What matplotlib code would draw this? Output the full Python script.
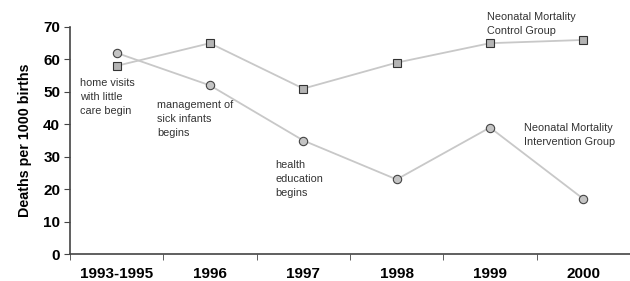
import numpy as np
import matplotlib
matplotlib.use('Agg')
import matplotlib.pyplot as plt

# data
periods = ['1993-1995', '1996', '1997', '1998', '1999', '2000']
control = [58, 65, 51, 59, 65, 66]
intervention = [62, 52, 35, 23, 39, 17]

plt.rcParams['font.family'] = 'Liberation Sans'

fig = plt.figure(figsize=(6.3, 2.81), dpi=100)
ax = fig.add_axes([0.111, 0.096, 0.889, 0.808])

x = np.arange(len(periods))
line_col = '#c8c8c8'

ax.plot(x, control, color=line_col, linewidth=1.3, marker='s', markersize=6,
        markerfacecolor='#b4b4b4', markeredgecolor='#333333', markeredgewidth=0.8, zorder=3)
ax.plot(x, intervention, color=line_col, linewidth=1.3, marker='o', markersize=6,
        markerfacecolor='#c4c4c4', markeredgecolor='#444444', markeredgewidth=0.8, zorder=3)

ax.set_xlim(-0.5, len(periods) - 0.5)
ax.set_ylim(0, 70)
ax.set_yticks(range(0, 71, 10))

# labels centred on categories, ticks between them
ax.set_xticks(x)
ax.set_xticklabels(periods, fontsize=11, fontweight='bold')
ax.set_xticks(np.arange(-0.5, len(periods)), minor=True)
ax.tick_params(axis='x', which='major', length=0, pad=9)
ax.tick_params(axis='x', which='minor', length=4, direction='out', color='#444444')
ax.tick_params(axis='y', length=4, direction='out', color='#444444', labelsize=11, pad=3)
for lab in ax.get_yticklabels():
    lab.set_fontweight('bold')

ax.set_ylabel('Deaths per 1000 births', fontsize=10.3, fontweight='bold', labelpad=8)

for side in ['top', 'right']:
    ax.spines[side].set_visible(False)
for side in ['left', 'bottom']:
    ax.spines[side].set_color('#444444')
    ax.spines[side].set_linewidth(1.2)

# annotations
note_kw = dict(fontsize=7.8, color='#333333', va='top', ha='left', linespacing=1.5)
ax.text(-0.39, 54.3, 'home visits\nwith little\ncare begin', **note_kw)
ax.text(0.435, 47.5, 'management of\nsick infants\nbegins', **note_kw)
ax.text(1.70, 29.0, 'health\neducation\nbegins', **note_kw)
ax.text(3.97, 74.6, 'Neonatal Mortality\nControl Group', clip_on=False, **note_kw)
ax.text(4.36, 40.4, 'Neonatal Mortality\nIntervention Group', **note_kw)

fig.savefig('out.png', dpi=100)
